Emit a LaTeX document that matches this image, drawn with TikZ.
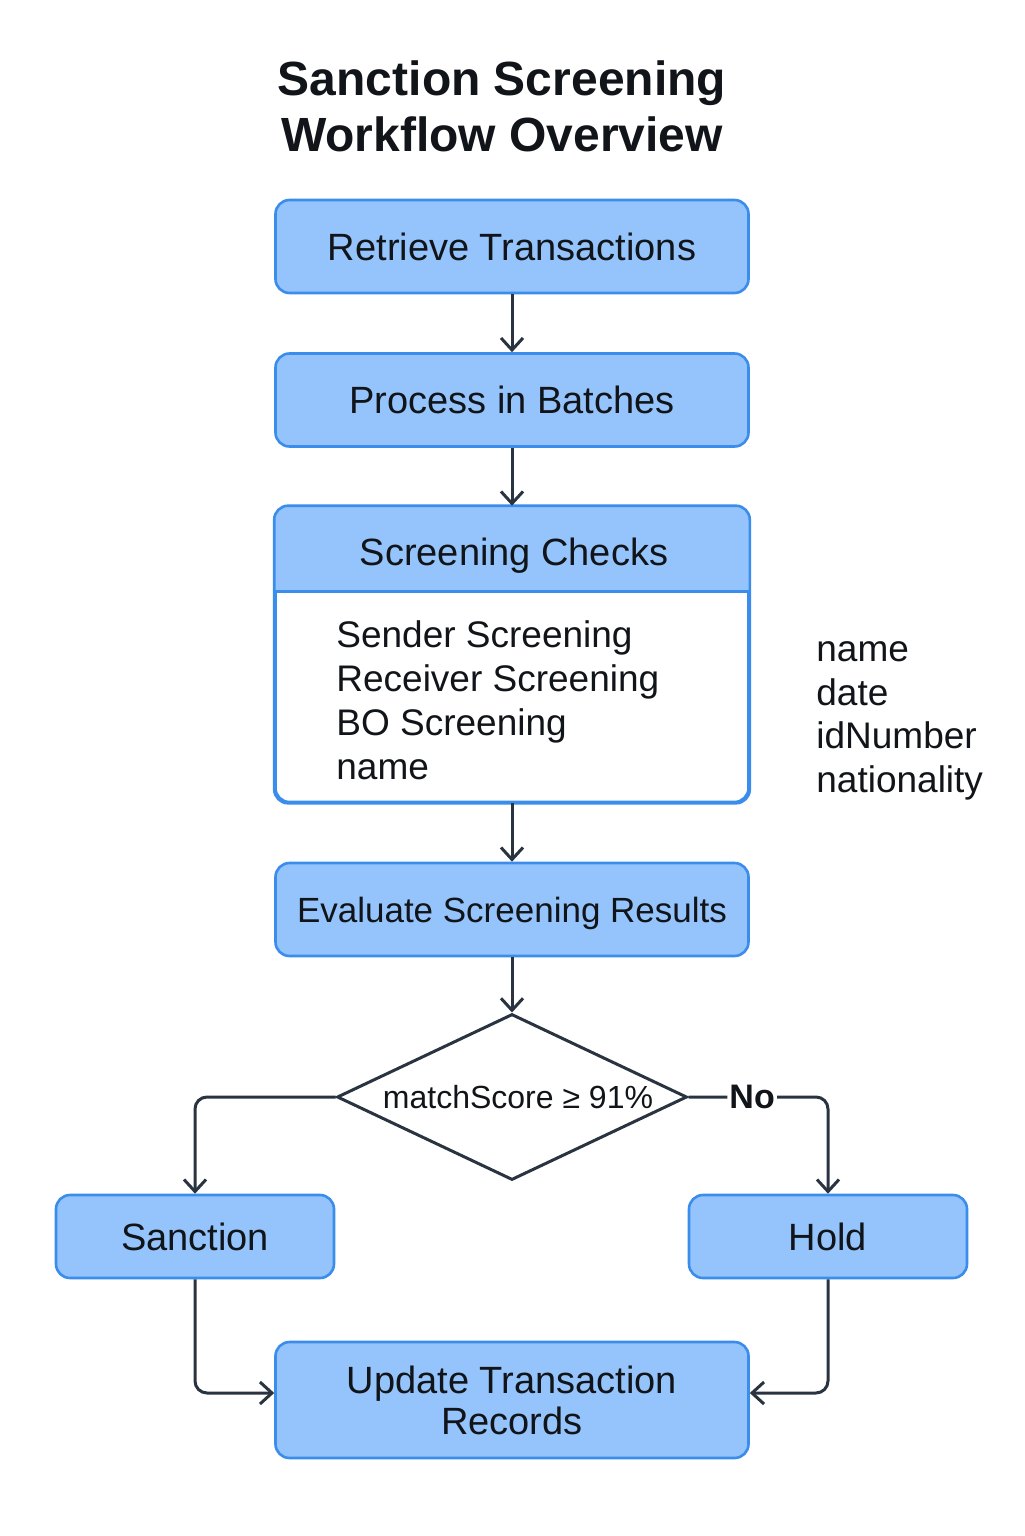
\documentclass[tikz,border=0pt]{standalone}
\usepackage{fontspec}
\setmainfont{Liberation Sans}
\usetikzlibrary{shapes.geometric,arrows.meta}
\definecolor{boxfill}{HTML}{94C4FB}
\definecolor{boxline}{HTML}{3A8DEB}
\definecolor{linkcol}{HTML}{2A3441}
\definecolor{txt}{HTML}{111418}
\begin{document}
\begin{tikzpicture}[x=0.5pt,y=-0.5pt,
  flowbox/.style={draw=boxline, line width=1.3pt, fill=boxfill, rounded corners=7pt,
    minimum width=236.5pt, minimum height=46.5pt, inner sep=0pt,
    font=\fontsize{19}{23}\selectfont, text=txt, text height=13.7pt, text depth=0pt},
  sidebox/.style={flowbox, minimum width=139pt, minimum height=41.5pt},
  link/.style={draw=linkcol, line width=1.5pt, -{Straight Barb[length=6pt,width=11pt]}, rounded corners=6pt},
  plaintext/.style={inner sep=0pt, text=txt, align=left, font=\fontsize{18.5}{21.75}\selectfont}
]
\fill[white] (0,0) rectangle (1024,1536);
\useasboundingbox (0,0) rectangle (1024,1536);

% title
\node[anchor=north, inner sep=0pt, align=center, text=txt,
  font=\fontsize{24}{28}\selectfont\bfseries] (title) at (502,56)
  {\strut Sanction Screening\\Workflow Overview};

% boxes
\node[flowbox] (ret) at (512,246.5) {Retrieve Transactions};
\node[flowbox] (proc) at (512,400) {Process in Batches};

\node[draw=boxline, line width=1.3pt, fill=white, rounded corners=7pt,
  minimum width=236.5pt, minimum height=147.5pt, inner sep=0pt] (chk) at (512,654.5) {};
\begin{scope}
  \clip[rounded corners=7pt] (chk.north west) rectangle (chk.south east);
  \fill[boxfill] (chk.north west) rectangle ([yshift=-43pt]chk.north east);
\end{scope}
\draw[boxline, line width=1.3pt] ([yshift=-43pt]chk.north west) -- ([yshift=-43pt]chk.north east);
\draw[boxline, line width=1.3pt, rounded corners=7pt] (chk.north west) rectangle (chk.south east);
\node[inner sep=0pt, text=txt, font=\fontsize{19}{23}\selectfont, text height=13.7pt, text depth=0pt]
  (chkhead) at (514,552) {Screening Checks};
\node[plaintext, anchor=north west, font=\fontsize{18.5}{22}\selectfont] (chkbody) at (336,616)
  {\strut Sender Screening\\Receiver Screening\\BO Screening\\name};

\node[plaintext, anchor=north west] (side) at (816,631)
  {\strut name\\date\\idNumber\\nationality};

\node[flowbox, font=\fontsize{17.5}{21}\selectfont, text height=12.6pt] (eval) at (512,909.5) {Evaluate Screening Results};

\node[draw=linkcol, line width=1.5pt, fill=white, shape=diamond, shape aspect=2.07,
  minimum width=175pt, minimum height=83pt, inner sep=0pt, text=txt,
  font=\fontsize{16}{19}\selectfont] (dec) at (512,1097) {\hspace{6pt}matchScore ≥ 91\%};

\node[sidebox] (sanc) at (195,1236.5) {Sanction};
\node[sidebox] (hold) at (828,1236.5) {Hold};

\node[flowbox, minimum height=58pt, text height=, text depth=, align=center,
  font=\fontsize{19}{20.5}\selectfont] (upd) at (512,1400) {Update Transaction\\Records};

% connectors
\draw[link] (ret.south) -- (proc.north);
\draw[link] (proc.south) -- (chk.north);
\draw[link] (chk.south) -- (eval.north);
\draw[link] (eval.south) -- (dec.north);
\draw[link] (dec.west) -| (sanc.north);
\draw[link] (dec.east) -- node[pos=0.86, fill=white, inner sep=1pt, text=txt,
  font=\fontsize{17}{20}\selectfont\bfseries] (nolab) {No} ++(74,0) -| (hold.north);
\draw[link] (sanc.south) |- ([yshift=3.5pt]upd.west);
\draw[link] (hold.south) |- ([yshift=3.5pt]upd.east);
\end{tikzpicture}
\end{document}
